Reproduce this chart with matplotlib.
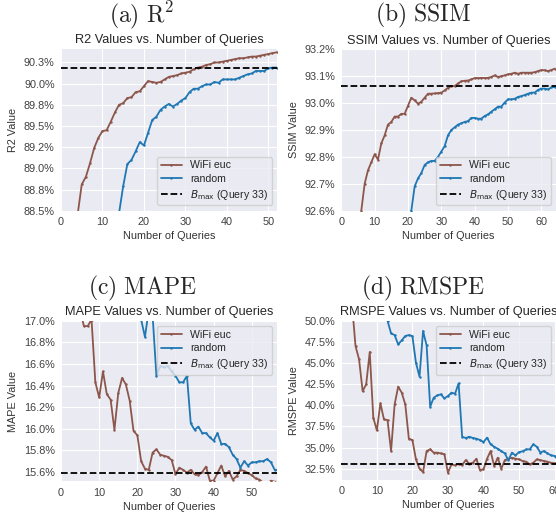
import numpy as np
import matplotlib
matplotlib.use('Agg')
import matplotlib.pyplot as plt

plt.style.use('seaborn-v0_8-darkgrid')
plt.rcParams['mathtext.fontset'] = 'dejavusans'

# ---- data ----
# R2
r2_wifi = [87.2, 87.8, 88.2, 88.45, 88.81, 88.90, 89.06, 89.24, 89.36, 89.44,
           89.45, 89.55, 89.66, 89.75, 89.77, 89.83, 89.84, 89.90, 89.91, 89.97,
           90.03, 90.02, 90.01, 90.02, 90.05, 90.08, 90.09, 90.10, 90.12, 90.13,
           90.14, 90.17, 90.19, 90.20, 90.22, 90.23, 90.25, 90.25, 90.26, 90.27,
           90.28, 90.29, 90.30, 90.30, 90.31, 90.32, 90.32, 90.33, 90.34, 90.35,
           90.36, 90.37]
r2_random = [85.6, 86.0, 86.4, 86.7, 87.0, 87.2, 87.4, 87.6, 87.8, 87.95,
             88.1, 88.2, 88.35, 88.47, 88.79, 89.05, 89.10, 89.20, 89.31, 89.27,
             89.42, 89.57, 89.61, 89.69, 89.73, 89.76, 89.73, 89.76, 89.80, 89.83,
             89.90, 89.94, 89.94, 89.97, 89.99, 89.99, 90.02, 90.01, 90.05, 90.05,
             90.05, 90.05, 90.07, 90.09, 90.11, 90.12, 90.15, 90.15, 90.15, 90.18,
             90.19, 90.19]

# SSIM
ssim_wifi = [92.30, 92.40, 92.47, 92.52, 92.56, 92.60, 92.70, 92.75, 92.78, 92.81,
             92.79, 92.85, 92.88, 92.92, 92.93, 92.95, 92.95, 92.96, 92.96, 92.99,
             93.02, 93.01, 92.998, 93.005, 93.02, 93.035, 93.035, 93.036, 93.037, 93.039,
             93.047, 93.057, 93.063, 93.063, 93.073, 93.081, 93.083, 93.084, 93.088, 93.093,
             93.093, 93.094, 93.093, 93.094, 93.097, 93.103, 93.097, 93.100, 93.103, 93.107,
             93.109, 93.113, 93.109, 93.113, 93.113, 93.113, 93.113, 93.115, 93.119, 93.123,
             93.122, 93.119, 93.123, 93.128]
ssim_random = [91.90, 92.00, 92.08, 92.15, 92.20, 92.25, 92.29, 92.33, 92.36, 92.39,
               92.42, 92.44, 92.46, 92.48, 92.50, 92.52, 92.54, 92.56, 92.57, 92.585,
               92.60, 92.69, 92.72, 92.74, 92.77, 92.78, 92.785, 92.785, 92.80, 92.82,
               92.84, 92.88, 92.90, 92.91, 92.92, 92.925, 92.93, 92.933, 92.945, 92.945,
               92.942, 92.942, 92.952, 92.958, 92.968, 92.977, 92.987, 92.987, 93.002, 93.014,
               93.014, 93.016, 93.023, 93.026, 93.030, 93.035, 93.039, 93.039, 93.049, 93.054,
               93.054, 93.051, 93.058, 93.060]

# MAPE
mape_wifi = [19.0, 18.2, 17.8, 17.4, 17.1, 16.95, 16.95, 17.01, 16.43, 16.29,
             16.53, 16.32, 16.27, 15.99, 16.33, 16.47, 16.41, 16.26, 15.98, 15.94,
             15.70, 15.63, 15.62, 15.78, 15.81, 15.76, 15.75, 15.74, 15.71, 15.58,
             15.64, 15.62, 15.594, 15.62, 15.58, 15.57, 15.60, 15.65, 15.52, 15.52,
             15.59, 15.66, 15.56, 15.61, 15.53, 15.56, 15.62, 15.61, 15.59, 15.57,
             15.54, 15.53, 15.50, 15.49, 15.52, 15.51, 15.51]
mape_random = [22.0, 21.3, 20.7, 20.2, 19.8, 19.4, 19.1, 18.8, 18.5, 18.3,
               18.1, 17.9, 17.75, 17.6, 17.5, 17.4, 17.3, 17.22, 17.15, 17.08,
               17.01, 16.85, 17.10, 17.05, 16.49, 16.58, 16.57, 16.58, 16.53, 16.49,
               16.43, 16.43, 16.49, 16.05, 15.99, 16.02, 15.96, 15.96, 15.92, 15.89,
               15.96, 15.86, 15.86, 15.83, 15.76, 15.72, 15.64, 15.70, 15.66, 15.69,
               15.69, 15.70, 15.70, 15.72, 15.69, 15.62, 15.62]

# RMSPE
rmspe_wifi = [62.0, 57.0, 52.0, 47.0, 45.43, 41.68, 42.47, 46.3, 38.53, 37.03,
              40.23, 38.33, 38.25, 34.59, 40.1, 42.2, 41.49, 40.1, 36.05, 35.9,
              33.6, 32.5, 32.1, 34.59, 34.79, 34.4, 34.4, 34.31, 34.2, 32.03,
              33.01, 32.9, 33.05, 32.93, 33.52, 33.09, 33.2, 33.68, 32.34, 32.42,
              33.68, 34.59, 32.82, 33.8, 32.5, 33.52, 33.68, 33.8, 33.68, 33.6,
              33.41, 33.33, 33.01, 33.2, 33.6, 33.52, 33.41, 33.33, 33.2, 33.13,
              33.09]
rmspe_random = [70.0, 66.0, 63.0, 60.0, 58.0, 57.0, 55.0, 54.0, 53.0, 52.0,
                51.0, 50.8, 50.0, 48.5, 48.3, 47.2, 47.68, 48.19, 48.3, 48.19,
                45.03, 43.38, 48.78, 47.08, 39.83, 40.9, 41.17, 41.29, 40.82, 41.09,
                41.49, 41.37, 42.59, 36.28, 36.13, 36.28, 36.13, 36.05, 35.9, 35.65,
                36.17, 35.38, 35.1, 34.86, 34.59, 34.31, 33.5, 34.4, 34.08, 34.47,
                34.55, 34.79, 34.79, 35.38, 35.1, 34.4, 34.59, 34.31, 34.08, 34.0,
                33.52]

bmax_query = 33

panels = [
    ('(a)\\ R^2', 'R2', r2_wifi, r2_random,
     [88.5, 88.75, 89.0, 89.25, 89.5, 89.75, 90.0, 90.25],
     ['88.5%', '88.8%', '89.0%', '89.2%', '89.5%', '89.8%', '90.0%', '90.3%'],
     (88.5, 90.415), 52.1, 'lower right'),
    ('(b)\\ SSIM', 'SSIM', ssim_wifi, ssim_random,
     [92.6, 92.7, 92.8, 92.9, 93.0, 93.1, 93.2],
     ['92.6%', '92.7%', '92.8%', '92.9%', '93.0%', '93.1%', '93.2%'],
     (92.6, 93.2), 64.4, 'lower right'),
    ('(c)\\ MAPE', 'MAPE', mape_wifi, mape_random,
     [15.6, 15.8, 16.0, 16.2, 16.4, 16.6, 16.8, 17.0],
     ['15.6%', '15.8%', '16.0%', '16.2%', '16.4%', '16.6%', '16.8%', '17.0%'],
     (15.514, 17.0), 56.6, 'upper right'),
    ('(d)\\ RMSPE', 'RMSPE', rmspe_wifi, rmspe_random,
     [32.5, 35.0, 37.5, 40.0, 42.5, 45.0, 47.5, 50.0],
     ['32.5%', '35.0%', '37.5%', '40.0%', '42.5%', '45.0%', '47.5%', '50.0%'],
     (31.2, 50.0), 60.4, 'upper right'),
]

W, H = 556, 516
# axes boxes in pixels: left, right, top, bottom
boxes = [(61, 277, 48.5, 210.7), (341.3, 556, 49.3, 210.7),
         (61, 277, 320.7, 481.3), (341.3, 556, 320.7, 479.7)]
caps = [(141, 15), (423, 15), (142, 288), (423, 288)]

fig = plt.figure(figsize=(W / 100, H / 100), dpi=100)

for (cap, name, wifi, rand, yt, ytl, ylim, xmax, loc), (l, r, t, b), (cx, cy) in zip(panels, boxes, caps):
    ax = fig.add_axes([l / W, 1 - b / H, (r - l) / W, (b - t) / H])
    q_w = np.arange(1, len(wifi) + 1)
    q_r = np.arange(1, len(rand) + 1)
    ax.plot(q_w, wifi, color='#8c564b', lw=1.3, marker='.', ms=1.5, label='WiFi euc')
    ax.plot(q_r, rand, color='#1f77b4', lw=1.3, marker='.', ms=1.5, label='random')
    ax.axhline(wifi[bmax_query - 1], color='black', ls='--', lw=1.3,
               label=r'$B_{\mathrm{max}}$ (Query %d)' % bmax_query)
    ax.set_xlim(0, xmax)
    ax.set_ylim(*ylim)
    ax.set_xticks(range(0, int(xmax) + 1, 10))
    ax.set_yticks(yt)
    ax.set_yticklabels(ytl)
    ax.tick_params(axis='x', labelsize=7.8, pad=4.5, length=0, colors='.25')
    ax.tick_params(axis='y', labelsize=7.8, pad=4.5, length=0, colors='.25')
    ax.set_title('%s Values vs. Number of Queries' % name, fontsize=9.2, pad=4, color='.15')
    ax.set_xlabel('Number of Queries', fontsize=7.8, labelpad=3, color='.2')
    ax.set_ylabel('%s Value' % name, fontsize=7.8, labelpad=4, color='.2')
    ax.legend(loc=loc, fontsize=7.6, frameon=True, borderpad=0.35, handlelength=2.0,
              labelspacing=0.35)
    fig.text(cx / W, 1 - cy / H, r'$\mathrm{%s}$' % cap, ha='center', va='center',
             fontsize=17, math_fontfamily='cm')

fig.savefig('out.png', dpi=100)
